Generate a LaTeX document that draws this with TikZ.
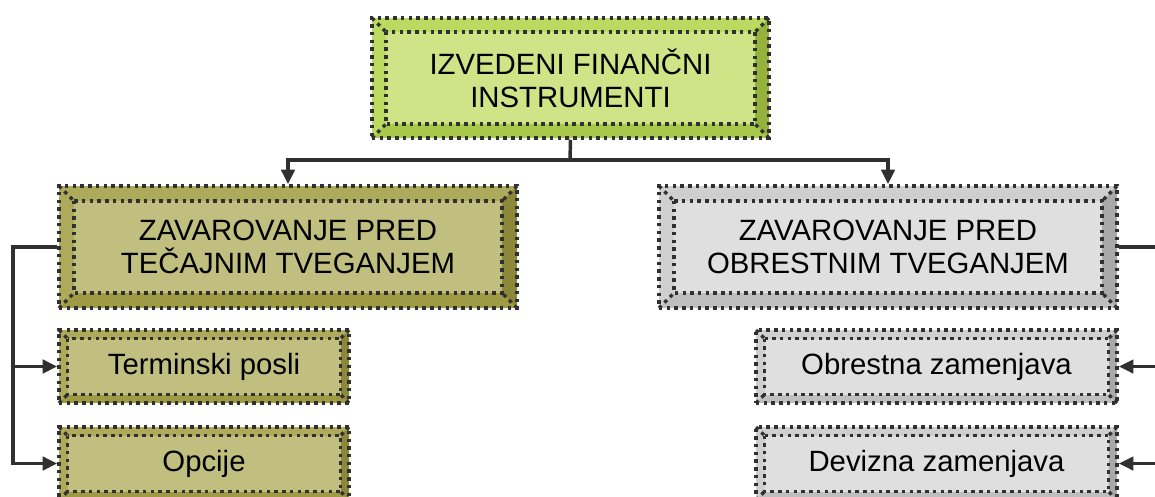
\documentclass[tikz,border=0pt]{standalone}
\usepackage{fontspec}
\setmainfont{Liberation Sans}
\usetikzlibrary{arrows.meta,calc}
\definecolor{limeface}{HTML}{CEE487}
\definecolor{limelight}{HTML}{BCD962}
\definecolor{limedark}{HTML}{A7C84A}
\definecolor{limeside}{HTML}{94B23C}
\definecolor{oliveface}{HTML}{C0BF80}
\definecolor{olivelight}{HTML}{AEAA5C}
\definecolor{olivedark}{HTML}{9F9B44}
\definecolor{oliveside}{HTML}{8B8839}
\definecolor{greyface}{HTML}{DFDFDF}
\definecolor{greylight}{HTML}{CFCFCF}
\definecolor{greydark}{HTML}{BFBFBF}
\definecolor{greyside}{HTML}{A9A9A9}
\definecolor{ink}{HTML}{303030}
\tikzset{
  dots/.style={draw=ink, line width=2.6pt, dash pattern=on 2.6pt off 3.2pt},
  boxtext/.style={align=center, inner sep=0pt, font=\fontsize{22}{25}\selectfont},
  link/.style={draw=ink, line width=2.6pt},
  arrow/.style={link, -{Triangle[length=11pt,width=10pt]}}
}
% #1 name, #2 colours, #3 left, #4 top, #5 right, #6 bottom, #7 bevel, #8 text
\newcommand{\bevelbox}[8]{
  \fill[#2light] (#3,#4) rectangle (#5,#6);
  \fill[#2dark] (#3,#6) -- (#5,#6) -- (#5-#7,#6-#7) -- (#3+#7,#6-#7) -- cycle;
  \fill[#2side] (#5,#4) -- (#5,#6) -- (#5-#7,#6-#7) -- (#5-#7,#4+#7) -- cycle;
  \fill[#2face] (#3+#7,#4+#7) rectangle (#5-#7,#6-#7);
  \draw[dots] (#3+#7,#4+#7) rectangle (#5-#7,#6-#7);
  \draw[dots] (#3,#4) -- (#3+#7,#4+#7) (#5,#4) -- (#5-#7,#4+#7)
    (#3,#6) -- (#3+#7,#6-#7) (#5,#6) -- (#5-#7,#6-#7);
  \node[boxtext, dots, minimum width={(#5-#3)*0.75pt}, minimum height={(#6-#4)*0.75pt}]
    (#1) at ({(#3+#5)/2},{(#4+#6)/2}) {#8};
}
\begin{document}
\begin{tikzpicture}[x=0.75pt, y=-0.75pt]
\useasboundingbox (0,0) rectangle (1155,496);
\clip (0,0) rectangle (1155,496);
\bevelbox{top}{lime}{372}{18}{769}{138}{14}{IZVEDENI FINANČNI\\INSTRUMENTI}
\bevelbox{tec}{olive}{59}{186}{517}{308}{15}{ZAVAROVANJE PRED\\TEČAJNIM TVEGANJEM}
\bevelbox{obr}{grey}{659}{186}{1117}{308}{15}{ZAVAROVANJE PRED\\OBRESTNIM TVEGANJEM}
\bevelbox{term}{olive}{59}{330}{349}{403}{8.5}{Terminski posli}
\bevelbox{opc}{olive}{59}{427}{349}{500}{8.5}{Opcije}
\bevelbox{obz}{grey}{756}{330}{1117}{403}{8.5}{Obrestna zamenjava}
\bevelbox{dev}{grey}{756}{427}{1117}{500}{8.5}{Devizna zamenjava}
\coordinate (split) at (570,160);
\coordinate (lbus) at (13,0);
\coordinate (rbus) at (1168,0);
\draw[link] (top.south) -- (split);
\draw[arrow] (split) -| (tec.north);
\draw[arrow] (split) -| (obr.north);
\draw[arrow] (tec.west) -- (tec.west -| lbus) |- (opc.west);
\draw[arrow] (term.west -| lbus) -- (term.west);
\draw[arrow] (obr.east) -- (obr.east -| rbus) |- (dev.east);
\draw[arrow] (obz.east -| rbus) -- (obz.east);
\end{tikzpicture}
\end{document}
